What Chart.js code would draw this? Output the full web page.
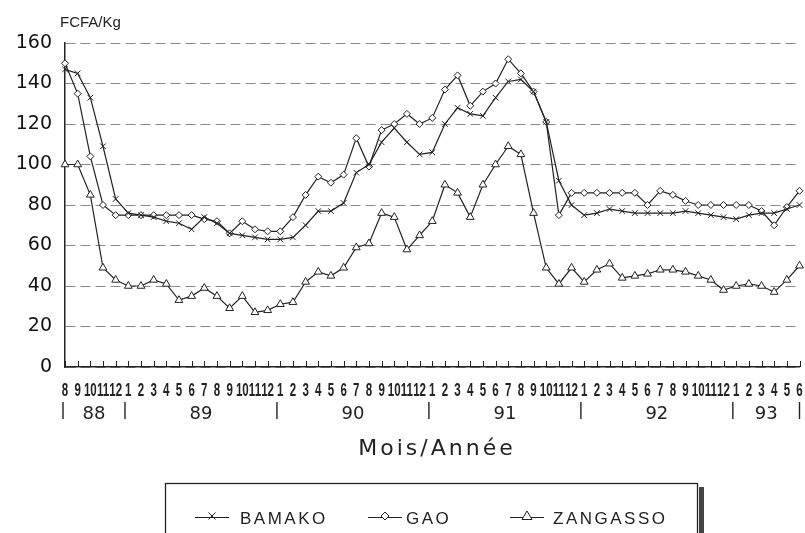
<!DOCTYPE html>
<html>
<head>
<meta charset="utf-8">
<script src="https://cdn.jsdelivr.net/npm/chart.js@4.4.1/dist/chart.umd.min.js"></script>
<style>
    html, body { margin: 0; padding: 0; background: #fff; }
    #wrap { width: 805px; height: 533px; position: relative; }
</style>
</head>
<body>
<div id="wrap"><canvas id="chart-area"></canvas></div>
<script>
// month labels, Aug 1988 .. Jun 1993
var months = ['8', '9', '10', '11', '12',
    '1', '2', '3', '4', '5', '6', '7', '8', '9', '10', '11', '12',
    '1', '2', '3', '4', '5', '6', '7', '8', '9', '10', '11', '12',
    '1', '2', '3', '4', '5', '6', '7', '8', '9', '10', '11', '12',
    '1', '2', '3', '4', '5', '6', '7', '8', '9', '10', '11', '12',
    '1', '2', '3', '4', '5', '6'];
var years = ['88', '89', '90', '91', '92', '93'];
var yTicks = [0, 20, 40, 60, 80, 100, 120, 140, 160];

var bamako = [147, 145, 133, 109, 83,
    76, 75, 74, 72, 71, 68, 74, 71, 66, 65, 64, 63,
    63, 64, 70, 77, 77, 81, 96, 100, 111, 118, 111, 105,
    106, 120, 128, 125, 124, 133, 141, 142, 136, 121, 92, 80,
    75, 76, 78, 77, 76, 76, 76, 76, 77, 76, 75, 74,
    73, 75, 76, 76, 78, 80];
var gao = [150, 135, 104, 80, 75,
    75, 75, 75, 75, 75, 75, 73, 72, 66, 72, 68, 67,
    67, 74, 85, 94, 91, 95, 113, 99, 117, 120, 125, 120,
    123, 137, 144, 129, 136, 140, 152, 145, 136, 121, 75, 86,
    86, 86, 86, 86, 86, 80, 87, 85, 82, 80, 80, 80,
    80, 80, 77, 70, 79, 87];
var zangasso = [100, 100, 85, 49, 43,
    40, 40, 43, 41, 33, 35, 39, 35, 29, 35, 27, 28,
    31, 32, 42, 47, 45, 49, 59, 61, 76, 74, 58, 65,
    72, 90, 86, 74, 90, 100, 109, 105, 76, 49, 41, 49,
    42, 48, 51, 44, 45, 46, 48, 48, 47, 45, 43, 38,
    40, 41, 40, 37, 43, 50];

var ink = '#222';
var font = "'Liberation Sans', Arial, sans-serif";
var wide = "'DejaVu Sans', Verdana, sans-serif";

function drawMark(ctx, style, x, y) {
    ctx.save();
    ctx.strokeStyle = ink;
    ctx.fillStyle = '#fff';
    ctx.lineWidth = 1;
    ctx.beginPath();
    if (style === 'crossRot') {
        ctx.moveTo(x - 3.5, y - 3.5); ctx.lineTo(x + 3.5, y + 3.5);
        ctx.moveTo(x + 3.5, y - 3.5); ctx.lineTo(x - 3.5, y + 3.5);
        ctx.stroke();
    } else if (style === 'rectRot') {
        ctx.moveTo(x, y - 4); ctx.lineTo(x + 4, y); ctx.lineTo(x, y + 4); ctx.lineTo(x - 4, y);
        ctx.closePath(); ctx.fill(); ctx.stroke();
    } else {
        ctx.moveTo(x, y - 5); ctx.lineTo(x + 5, y + 3.5); ctx.lineTo(x - 5, y + 3.5);
        ctx.closePath(); ctx.fill(); ctx.stroke();
    }
    ctx.restore();
}

// month row (squeezed like the print), year row, titles, ticks, boxed legend
var decorations = {
    id: 'decorations',
    afterDraw: function (chart) {
        var ctx = chart.ctx;
        var xs = chart.scales.x;
        var area = chart.chartArea;
        ctx.save();
        ctx.fillStyle = ink;
        ctx.strokeStyle = ink;

        // small ticks inside the x axis and month numbers
        ctx.lineWidth = 1;
        ctx.font = 'bold 18px ' + font;
        ctx.textAlign = 'center';
        ctx.textBaseline = 'alphabetic';
        months.forEach(function (m, i) {
            var px = xs.getPixelForValue(i);
            ctx.beginPath();
            ctx.moveTo(Math.round(px) + 0.5, area.bottom - 6);
            ctx.lineTo(Math.round(px) + 0.5, area.bottom);
            ctx.stroke();
            ctx.save();
            ctx.translate(px, 396);
            ctx.scale(0.64, 1);
            ctx.fillText(m, 0, 0);
            ctx.restore();
        });

        // year separators and labels
        var starts = [];
        months.forEach(function (m, i) { if (i === 0 || m === '1') starts.push(i); });
        var edges = starts.map(function (s) {
            return s === 0 ? xs.getPixelForValue(0) - 2
                : (xs.getPixelForValue(s - 1) + xs.getPixelForValue(s)) / 2 + 3;
        });
        edges.push(xs.getPixelForValue(months.length - 1));
        ctx.lineWidth = 1.4;
        edges.forEach(function (e) {
            ctx.beginPath();
            ctx.moveTo(e, 402);
            ctx.lineTo(e, 419);
            ctx.stroke();
        });
        ctx.font = '18px ' + wide;
        years.forEach(function (y, k) {
            ctx.fillText(y, (edges[k] + edges[k + 1]) / 2, 419);
        });

        ctx.font = '22px ' + wide;
        ctx.letterSpacing = '3px';
        ctx.fillText('Mois/Année', 437, 455);
        ctx.letterSpacing = '0px';

        ctx.textAlign = 'left';
        ctx.font = '15px ' + font;
        ctx.fillText('FCFA/Kg', 60, 27);

        // legend box
        ctx.lineWidth = 1.3;
        ctx.strokeRect(165.5, 483.5, 532, 70);
        ctx.fillStyle = '#444';
        ctx.fillRect(699, 487, 5, 46);
        ctx.fillStyle = ink;
        ctx.font = '17px ' + font;
        ctx.letterSpacing = '2.5px';
        var spots = [[195, 240], [368, 406], [510, 553]];
        chart.data.datasets.forEach(function (ds, k) {
            var sx = spots[k][0];
            ctx.lineWidth = 1;
            ctx.beginPath();
            ctx.moveTo(sx, 517.5);
            ctx.lineTo(sx + 34, 517.5);
            ctx.stroke();
            drawMark(ctx, ds.pointStyle, sx + 17, 516);
            ctx.fillText(ds.label, spots[k][1], 524);
        });
        ctx.restore();
    }
};

var ctx = "chart-area";
var lineSet = function (label, data, style, radius) {
    return {
        label: label,
        data: data,
        borderColor: ink,
        borderWidth: 1.2,
        pointStyle: style,
        pointRadius: radius,
        pointBorderColor: ink,
        pointBackgroundColor: '#fff',
        pointBorderWidth: 1,
        tension: 0,
        fill: false
    };
};

window.chart = new Chart(ctx, {
    type: 'line',
    data: {
        labels: months,
        datasets: [
            lineSet('BAMAKO', bamako, 'crossRot', 4),
            lineSet('GAO', gao, 'rectRot', 3.5),
            lineSet('ZANGASSO', zangasso, 'triangle', 4.5)
        ]
    },
    options: {
        responsive: true,
        maintainAspectRatio: false,
        animation: false,
        layout: { padding: { top: 43, right: 5, left: 0, bottom: 0 } },
        plugins: { legend: { display: false }, tooltip: { enabled: false } },
        scales: {
            x: {
                offset: false,
                grid: { display: false, drawTicks: false },
                border: { display: true, color: ink, width: 1.5 },
                ticks: { display: false, autoSkip: false, maxRotation: 0 },
                afterFit: function (scale) { scale.height = 166; }
            },
            y: {
                min: 0,
                max: 160,
                afterBuildTicks: function (scale) {
                    scale.ticks = yTicks.map(function (v) { return { value: v }; });
                },
                grid: { color: '#8a8a8a', lineWidth: 1, drawTicks: false },
                border: { display: true, color: ink, width: 1.5, dash: [10, 5] },
                ticks: {
                    padding: 13,
                    color: '#111',
                    font: { family: wide, size: 19 }
                },
                afterFit: function (scale) { scale.width = 65; }
            }
        }
    },
    plugins: [decorations]
});
</script>
</body>
</html>
